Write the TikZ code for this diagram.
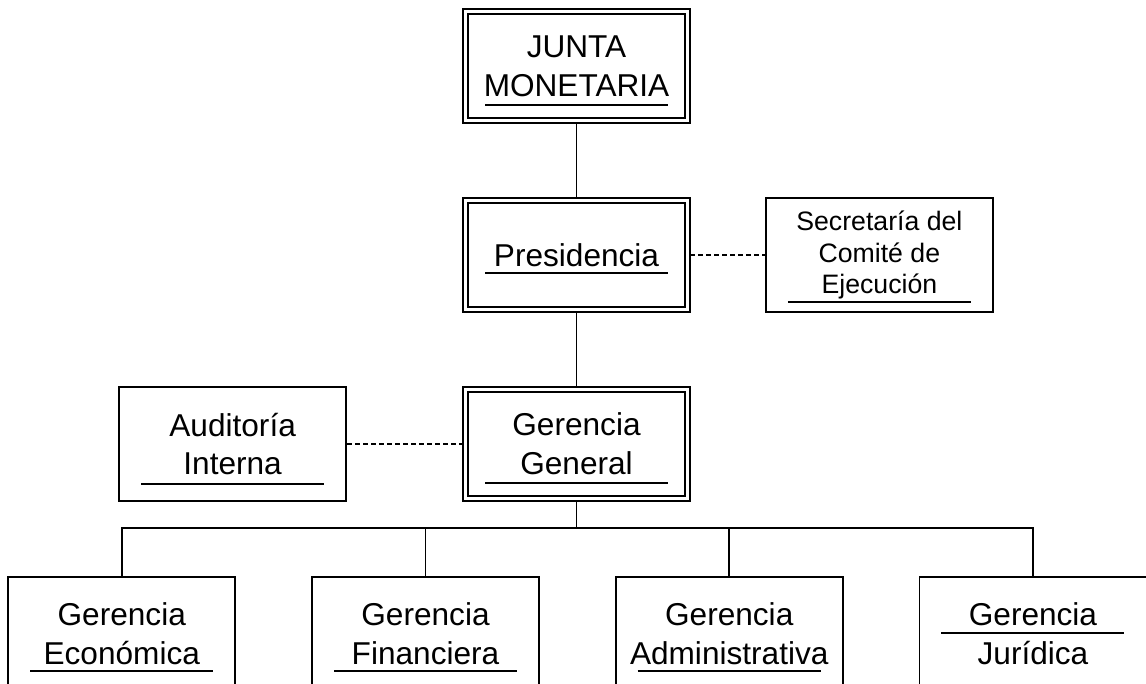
\documentclass[tikz,border=0pt]{standalone}
\usepackage{fontspec}
\setmainfont{Liberation Sans}
\usetikzlibrary{positioning, calc}
\newcommand\wa{170.25pt}
\newcommand\ha{85.5pt}
\newcommand\wdb{166.5pt}
\newcommand\hdb{81.75pt}
\newcommand\gap{56.25pt}

\begin{document}
\begin{tikzpicture}[x=0.75pt, y=-0.75pt, node distance=\gap,
    box/.style={draw, line width=1.3pt, minimum width=\wa, minimum height=\ha, align=center, inner sep=0pt, font=\fontsize{23.7}{29}\selectfont},
    dbox/.style={box, double, line width=0.85pt, double distance=2.9pt, minimum width=\wdb, minimum height=\hdb, outer sep=1.875pt},
    link/.style={line width=1.3pt},
    dlink/.style={line width=1pt, dash pattern=on 4pt off 2pt},
    uline/.style={line width=1.5pt}]
    \useasboundingbox (0,0) rectangle (1146,684);
    \clip (0,0) rectangle (1146,684);

    \node (gg) [dbox] at (576.5,444) {Gerencia\\General};
    \node (pres) [dbox, above=of gg] {Presidencia};
    \node (jm) [dbox, above=of pres] {JUNTA\\MONETARIA};
    \node (sec) [box, right=of pres, font=\fontsize{20}{23.5}\selectfont] {Secretaría del\\Comité de\\Ejecución};
    \node (aud) [box, left=87pt of gg] {Auditoría\\Interna};

    \node (gf) [box, below=of gg, xshift=-113.25pt] {Gerencia\\Financiera};
    \node (ge) [box, left=of gf] {Gerencia\\Económica};
    \node (ga) [box, right=of gf] {Gerencia\\Administrativa};
    \node (gj) [box, right=of ga] {Gerencia\\Jurídica};

    \draw[link] (jm) -- (pres);
    \draw[link] (pres) -- (gg);
    \draw[dlink] (pres) -- (sec);
    \draw[dlink] (aud) -- (gg);

    \coordinate (bus) at (576.5,528);
    \draw[link] (gg) -- (bus);
    \foreach \n in {ge,gf,ga,gj}
        \draw[link] (bus) -| (\n);

    % underlines
    \foreach \n/\d in {jm/39, pres/18, gg/39, aud/40, sec/47.5, ge/37, gf/37, ga/37, gj/-1}
        \draw[uline] ($(\n.center)+(-91.5,\d)$) -- ++(183,0);

\end{tikzpicture}
\end{document}
